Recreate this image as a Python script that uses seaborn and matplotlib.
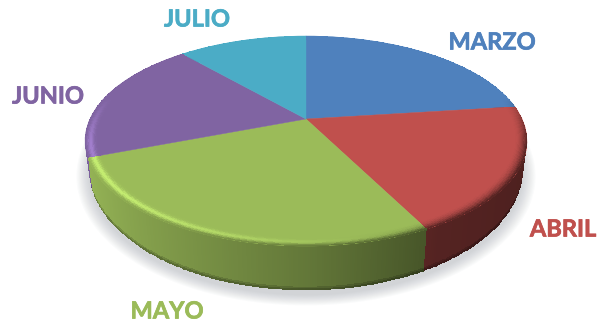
import numpy as np
import matplotlib
matplotlib.use("Agg")
import matplotlib.pyplot as plt
import matplotlib.patheffects as pe
from matplotlib.transforms import Transform
import seaborn as sns

# Monthly shares of the pie, clockwise from twelve o'clock
months = ["MARZO", "ABRIL", "MAYO", "JUNIO", "JULIO"]
shares = [23.0, 19.5, 26.7, 19.3, 11.5]
colours = ["#4F81BD", "#C0504D", "#9BBB59", "#8064A2", "#4BACC6"]
label_xy = [(492, 42), (563, 229), (167, 311), (48, 96), (197, 19)]

sns.set_theme(style="white")
palette = sns.color_palette(colours)


class DiscProjection(Transform):
    """Perspective view of a unit disc lying flat, in pixel coordinates."""
    input_dims = output_dims = 2

    def __init__(self, x0, y0, a, b, k):
        super().__init__()
        self.x0, self.y0, self.a, self.b, self.k = x0, y0, a, b, k

    def transform_non_affine(self, values):
        values = np.asarray(values, float)
        u, v = values[:, 0], values[:, 1]
        w = 1 + self.k * v
        return np.column_stack([self.x0 + self.a * u / w, self.y0 - self.b * v / w])

    def at(self, u, v):
        pts = np.column_stack([np.ravel(u), np.ravel(v)])
        out = self.transform_non_affine(pts)
        return out[:, 0].reshape(np.shape(u)), out[:, 1].reshape(np.shape(u))


top_disc = DiscProjection(306, 119, 216.1, 100.4, 0.2095)
base_disc = DiscProjection(306, 144, 212.7, 117.0, 0.2)

fig = plt.figure(figsize=(5.97, 3.24), dpi=100, facecolor="white")
ax = fig.add_axes([0, 0, 1, 1])

wedges, _ = ax.pie(shares, colors=palette, startangle=90, counterclock=False,
                   frame=True, wedgeprops={"linewidth": 0.3})
ax.set_aspect("auto")
ax.set_xlim(0, 597)
ax.set_ylim(324, 0)
ax.axis("off")


def wall_shade(u):
    # Light falls from the left, so the side wall darkens towards the right
    return np.interp(u, [-1.0, -0.6, 0.0, 0.5, 1.0], [0.98, 0.84, 0.64, 0.44, 0.40])


# Soft cast shadow beneath the disc
ring = np.linspace(0, 2 * np.pi, 240)
for grow in np.linspace(1.055, 1.0, 12):
    sx, sy = base_disc.at(grow * np.cos(ring), grow * np.sin(ring))
    ax.fill(sx, sy + 5, color="#8A8F9C", alpha=0.035, lw=0, zorder=1)

# Side wall and bevelled rim of every slice, built from the pie's own angles
for wedge, colour in zip(wedges, palette):
    base = np.array(colour)
    wedge.set_transform(top_disc + ax.transData)
    wedge.set_edgecolor(base)
    wedge.set_zorder(3)

    theta = np.radians(np.linspace(wedge.theta1, wedge.theta2,
                                   max(8, int(wedge.theta2 - wedge.theta1) * 2)))
    u, v = np.cos(theta), np.sin(theta)
    front = np.clip((0.22 - v) / 0.45, 0, 1)[:, None]

    # Wall: rows run from the rim of the top disc down to the base disc
    depth = np.linspace(0, 1, 26)[:, None]
    tx, ty = top_disc.at(u, v)
    bx, by = base_disc.at(u, v)
    wall_x = (tx[None, :] * (1 - depth) + bx[None, :] * depth).T
    wall_y = (ty[None, :] * (1 - depth) + by[None, :] * depth).T
    mid = 0.5 * (u[:-1] + u[1:])
    shade = wall_shade(mid)[:, None, None]
    rows = 0.5 * (depth[:-1] + depth[1:]).T[:, :, None]
    fade = 1 - 0.35 * np.clip((rows - 0.9) / 0.1, 0, 1)
    wall_rgb = np.clip(base[None, None, :] * shade * fade, 0, 1)
    ax.pcolormesh(wall_x, wall_y, wall_rgb, zorder=2)

    # Bevel: a narrow band on the top face that rolls over into the wall
    radii = np.linspace(0.945, 1.0, 12)[:, None]
    bev_x, bev_y = top_disc.at(u[:, None] * radii.T, v[:, None] * radii.T)
    r_mid = 0.5 * (radii[:-1] + radii[1:]).T
    roll = (r_mid - 0.945) / 0.055
    um = mid[:, None]
    shine = np.clip((0.55 - um) / 1.3, 0, 1) * 0.30
    fm = 0.5 * (front[:-1] + front[1:])
    target = wall_shade(um)
    hump = np.exp(-((roll - 0.55) / 0.25) ** 2)
    rgb = []
    for c in range(3):
        lit = base[c] * (1 + (target - 1) * roll ** 2)
        # The highlight keeps the hue of the slice rather than going white
        lit = lit + (np.minimum(1, base[c] * 1.3) - lit) * (shine / 0.30) * hump * 0.9
        rgb.append(base[c] * (1 - fm) + lit * fm)
    ax.pcolormesh(bev_x, bev_y, np.clip(np.dstack(rgb), 0, 1), zorder=4)

for name, colour, (lx, ly) in zip(months, palette, label_xy):
    ax.text(lx, ly, name, color=colour, family="Lato", weight="bold", fontsize=17,
            ha="center", va="center", zorder=6,
            path_effects=[pe.withStroke(linewidth=0.5, foreground=colour)])

fig.savefig("out.png", dpi=100, facecolor="white")
